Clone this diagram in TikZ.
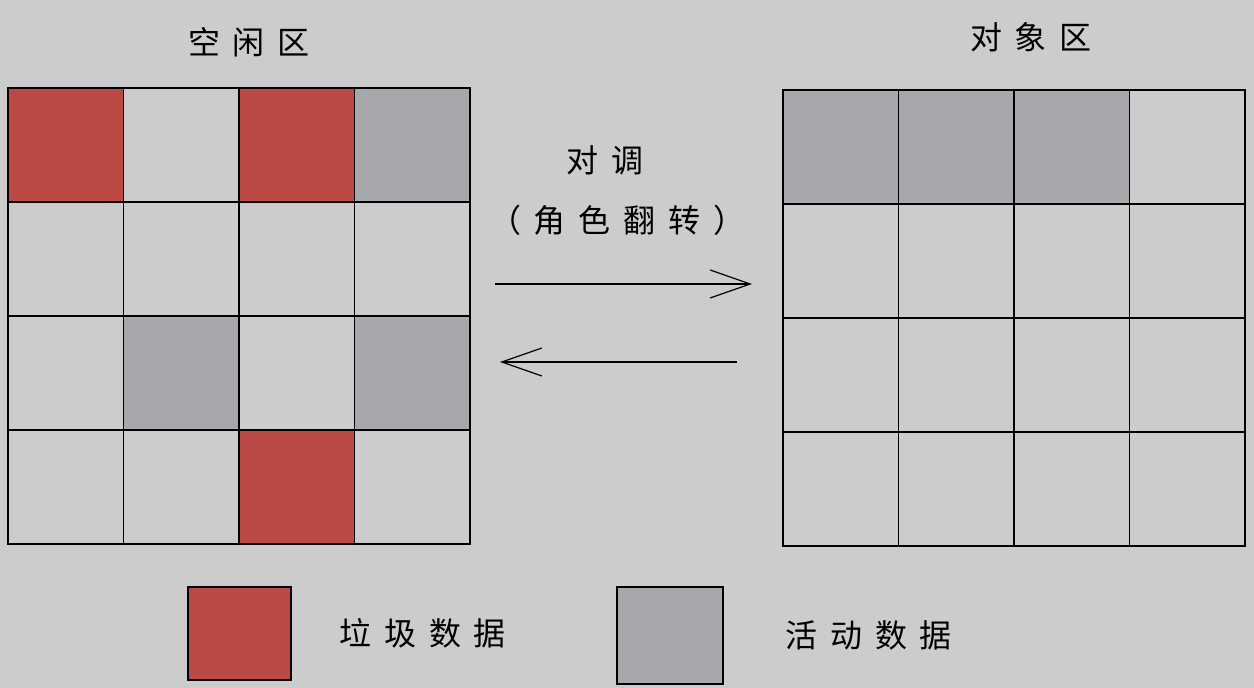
\documentclass[tikz,border=0pt]{standalone}
\usepackage{fontspec}
\usepackage{tikz}
\usetikzlibrary {arrows.meta,
                 positioning}
\newfontfamily\cjkfont[LetterSpace=40]{Noto Sans CJK SC}
\definecolor{bggray}{HTML}{CCCCCC}
\definecolor{garbred}{HTML}{BB4A47}
\definecolor{livegray}{HTML}{A6A8AB}
\tikzset{
         cell/.style={draw, line width=0.9pt, minimum width=57.75pt, minimum height=57pt, inner sep=0pt, outer sep=0pt},
         garbage/.style={cell, fill=garbred},
         alive/.style={cell, fill=livegray},
         cjktext/.style={font=\cjkfont\fontsize{16pt}{18pt}\selectfont, inner sep=0pt},
         swaparrow/.style={-{Straight Barb[length=20pt, width=14pt]}, line width=0.6pt},
}

\begin{document}
\begin{tikzpicture}[x=0.5pt, y=-0.5pt]
    \fill[bggray] (0,0) rectangle (1254,688);
    \useasboundingbox (0,0) rectangle (1254,688);

    % Ueberschriften
    \node[cjktext] (free_title) at (249,42) {空闲区};
    \node[cjktext] (obj_title) at (1031,37) {对象区};

    % Freier Bereich
    \node[garbage] (l11) at (65.75,145) {};
    \node[cell, right=0pt of l11] (l12) {};
    \node[garbage, right=0pt of l12] (l13) {};
    \node[alive, right=0pt of l13] (l14) {};

    \node[cell, below=0pt of l11] (l21) {};
    \node[cell, right=0pt of l21] (l22) {};
    \node[cell, right=0pt of l22] (l23) {};
    \node[cell, right=0pt of l23] (l24) {};

    \node[cell, below=0pt of l21] (l31) {};
    \node[alive, right=0pt of l31] (l32) {};
    \node[cell, right=0pt of l32] (l33) {};
    \node[alive, right=0pt of l33] (l34) {};

    \node[cell, below=0pt of l31] (l41) {};
    \node[cell, right=0pt of l41] (l42) {};
    \node[garbage, right=0pt of l42] (l43) {};
    \node[cell, right=0pt of l43] (l44) {};

    % Objektbereich
    \node[alive] (r11) at (840.75,147) {};
    \node[alive, right=0pt of r11] (r12) {};
    \node[alive, right=0pt of r12] (r13) {};
    \node[cell, right=0pt of r13] (r14) {};

    \node[cell, below=0pt of r11] (r21) {};
    \node[cell, right=0pt of r21] (r22) {};
    \node[cell, right=0pt of r22] (r23) {};
    \node[cell, right=0pt of r23] (r24) {};

    \node[cell, below=0pt of r21] (r31) {};
    \node[cell, right=0pt of r31] (r32) {};
    \node[cell, right=0pt of r32] (r33) {};
    \node[cell, right=0pt of r33] (r34) {};

    \node[cell, below=0pt of r31] (r41) {};
    \node[cell, right=0pt of r41] (r42) {};
    \node[cell, right=0pt of r42] (r43) {};
    \node[cell, right=0pt of r43] (r44) {};

    % Tausch
    \node[cjktext] (swap_text) at (605,160) {对调};
    \node[cjktext] (role_text) at (617,220) {（角色翻转）};
    \coordinate (to_start) at (495,284);
    \coordinate (to_end) at (752,284);
    \coordinate (back_start) at (737,362);
    \coordinate (back_end) at (500,362);
    \draw[swaparrow] (to_start) -- (to_end);
    \draw[swaparrow] (back_start) -- (back_end);

    % Legende
    \node[garbage, minimum width=51.5pt, minimum height=46.5pt] (key_red) at (239.5,633.5) {};
    \node[cjktext, anchor=west, right=24pt of key_red] (red_text) {垃圾数据};
    \node[alive, minimum width=53pt, minimum height=48.5pt] (key_gray) at (670,635.5) {};
    \node[cjktext, anchor=west, right=31pt of key_gray] (gray_text) {活动数据};

\end{tikzpicture}
\end{document}
